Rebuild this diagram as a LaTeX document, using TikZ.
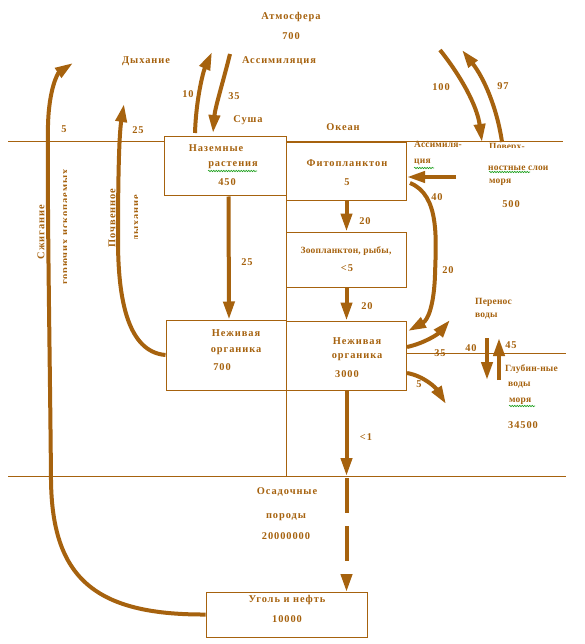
\documentclass[tikz,border=0pt]{standalone}
\usepackage{fontspec}
\setmainfont{Liberation Serif}[LetterSpace=9]
\usetikzlibrary{arrows.meta,decorations.pathmorphing}
\definecolor{br}{RGB}{166,98,14}
\definecolor{sg}{RGB}{30,160,30}
\begin{document}
\begin{tikzpicture}[x=1pt,y=-1pt,
  txt/.style={text=br, inner sep=0pt, font=\bfseries\fontsize{10.4}{12}\selectfont},
  txtn/.style={txt, font=\bfseries\fontsize{9.5}{12}\selectfont\addfontfeature{LetterSpace=2}},
  box/.style={draw=br, line width=1pt, fill=white, inner sep=0pt},
  arr/.style={draw=br, line width=4pt, -{Triangle[length=18pt,width=11pt]}},
  thinline/.style={draw=br, line width=1pt},
  wavy/.style={draw=sg, line width=0.6pt, decorate, decoration={snake, amplitude=0.7pt, segment length=2.5pt}}]
\useasboundingbox (0,0) rectangle (584,644);
\fill[white] (0,0) rectangle (584,644);
% guide lines
\draw[thinline] (8,142) -- (563,142);
\draw[thinline] (8,476) -- (566,476);
\draw[thinline] (405,353) -- (566,353);
\draw[thinline] (286,190) -- (286,476);
% boxes
\node[box, minimum width=122pt, minimum height=59pt] (land) at (225,166.5) {};
\node[box, minimum width=120pt, minimum height=58pt] (phyto) at (346.5,172) {};
\node[box, minimum width=120pt, minimum height=55pt] (zoo) at (346.5,259.5) {};
\node[box, minimum width=120pt, minimum height=69pt] (dead3) at (346.5,355.5) {};
\node[box, minimum width=120pt, minimum height=70pt] (dead7) at (226,355) {};
\node[box, minimum width=161pt, minimum height=45pt] (coal) at (286.5,614.5) {};
% texts
\node[txt] (atm) at (291,17) {Атмосфера};
\node[txt] (atmv) at (291,36) {700};
\node[txt] (resp) at (146,61) {Дыхание};
\node[txt] (assim) at (279,61) {Ассимиляция};
\node[txt] (t10) at (188,94) {10};
\node[txt] (t35a) at (234,96) {35};
\node[txt] (land1) at (248,120) {Суша};
\node[txt] (ocean) at (343,127) {Океан};
\node[txt] (t5a) at (64,129) {5};
\node[txt] (t25a) at (138,130) {25};
\node[txt] (t100) at (441,87) {100};
\node[txt] (t97) at (503,86) {97};
\begin{scope}
\clip (400,136) rectangle (470,146.5);
\node[txtn, anchor=base west] (as1) at (414,147.5) {Ассимиля-};
\end{scope}
\node[txtn, anchor=west] (as2) at (414,162) {ция};
\begin{scope}
\clip (485,142.5) rectangle (560,148);
\node[txtn, anchor=base west] (sur1) at (489,150) {Поверх-};
\end{scope}
\node[txtn, anchor=west] (sur2) at (488,168) {ностные слои};
\node[txtn, anchor=west] (sur3) at (489,182) {моря};
\node[txt] (sur4) at (511,204) {500};
\node[txt] (t40a) at (437,197) {40};
\node[txt] (lp1) at (216,148) {Наземные};
\node[txt] (lp2) at (233,165) {растения};
\node[txt] (lp3) at (227,182) {450};
\node[txt] (ph1) at (347,163) {Фитопланктон};
\node[txt] (ph2) at (347,182) {5};
\node[txt] (t20a) at (365,221) {20};
\node[txtn] (zo1) at (346,251) {Зоопланктон, рыбы,};
\node[txt] (zo2) at (347,268) {<5};
\node[txt] (t25b) at (247,262) {25};
\node[txt] (t20b) at (448,270) {20};
\node[txt] (t20c) at (367,306) {20};
\node[txtn, anchor=west] (tr1) at (475,302) {Перенос};
\node[txtn, anchor=west] (tr2) at (475,316) {воды};
\node[txt] (d71) at (236,333) {Неживая};
\node[txt] (d72) at (236,351) {органика};
\node[txt] (d73) at (222,367) {700};
\node[txt] (d31) at (357,341) {Неживая};
\node[txt] (d32) at (357,357) {органика};
\node[txt] (d33) at (347,374) {3000};
\node[txt] (t35b) at (440,353) {35};
\node[txt] (t40b) at (471,348) {40};
\node[txt] (t45) at (511,345) {45};
\node[txt] (t5b) at (419,384) {5};
\node[txtn, anchor=west] (dw1) at (505,369) {Глубин-ные};
\node[txtn, anchor=west] (dw2) at (508,385) {воды};
\node[txtn, anchor=west] (dw3) at (509,401) {моря};
\node[txt, anchor=west] (dw4) at (508,425) {34500};
\node[txt] (tl1) at (366,437) {<1};
\node[txt] (sd1) at (287,492) {Осадочные};
\node[txt] (sd2) at (286,517) {породы};
\node[txt] (sd3) at (286,536) {20000000};
\node[txt] (co1) at (287,600) {Уголь и нефть};
\node[txt] (co2) at (287,619) {10000};
\node[txt, rotate=90] (burn1) at (41,232) {Сжигание};
\node[txt, rotate=90] (soil1) at (112,218) {Почвенное};
\begin{scope}
\clip (62.5,150) rectangle (66.5,320);
\node[txt, rotate=90, anchor=base] (burn2) at (68,227) {горючих ископаемых};
\end{scope}
\begin{scope}
\clip (133.5,150) rectangle (137.5,300);
\node[txt, rotate=90, anchor=base] (soil2) at (139,218) {дыхание};
\end{scope}
% spell-check underlines
\draw[wavy] (208,171) -- (257,171);
\draw[wavy] (414,168) -- (434,168);
\draw[wavy] (489,172) -- (530,172);
\draw[wavy] (509,406) -- (535,406);
% arrow coordinates
\coordinate (up10s) at (195,133);
\coordinate (up10e) at (212,52);
\coordinate (dn35s) at (230,54);
\coordinate (dn35e) at (213,133);
\coordinate (a100s) at (440,50);
\coordinate (a100e) at (482,142);
\coordinate (a97s) at (502,142);
\coordinate (a97e) at (462,50);
\coordinate (assims) at (456,177);
\coordinate (phyR) at (410,183);
\coordinate (d3in) at (408,331);
\coordinate (d3o1) at (407,347);
\coordinate (tr) at (450,320);
\coordinate (d3o2) at (407,373);
\coordinate (dw) at (446,404);
\coordinate (w40s) at (487,338);
\coordinate (w40e) at (487,380);
\coordinate (w45s) at (499,380);
\coordinate (w45e) at (499,338);
\coordinate (sedtop) at (346.5,476);
\coordinate (sedbot) at (346.5,478);
\coordinate (coaltop) at (346.5,592);
\coordinate (soilend) at (124,104);
\coordinate (burnend) at (73,63);
% arrows
\draw[arr] (up10s) .. controls (196,100) and (203,72) .. (up10e);
\draw[arr] (dn35s) .. controls (223,82) and (215,108) .. (dn35e);
\draw[arr] (a100s) .. controls (460,75) and (477,105) .. (a100e);
\draw[arr] (a97s) .. controls (497,108) and (484,78) .. (a97e);
\draw[arr] (assims) -- (phyto.east |- assims);
\draw[arr] (phyR) .. controls (440,195) and (436,240) .. (435,275) .. controls (434,305) and (428,320) .. (d3in);
\draw[arr] (d3o1) .. controls (425,343) and (438,334) .. (tr);
\draw[arr] (d3o2) .. controls (424,376) and (436,388) .. (dw);
\draw[arr] (w40s) -- (w40e);
\draw[arr] (w45s) -- (w45e);
\draw[arr] ([xshift=3.5pt]land.south) -- ([xshift=3pt]dead7.north);
\draw[arr] (phyto.south) -- (zoo.north);
\draw[arr] (zoo.south) -- (dead3.north);
\draw[arr] (dead3.south) -- (sedtop);
\draw[arr, dash pattern=on 35pt off 13pt] (sedbot) -- (coaltop);
\draw[arr] (dead7.west) .. controls (128,352) and (118,300) .. (118,240) .. controls (118,180) and (119,135) .. (soilend);
\draw[arr] (coal.west) .. controls (95,615) and (52,578) .. (51,480) .. controls (50,360) and (47,200) .. (48,125) .. controls (49,88) and (58,73) .. (burnend);
\end{tikzpicture}
\end{document}
